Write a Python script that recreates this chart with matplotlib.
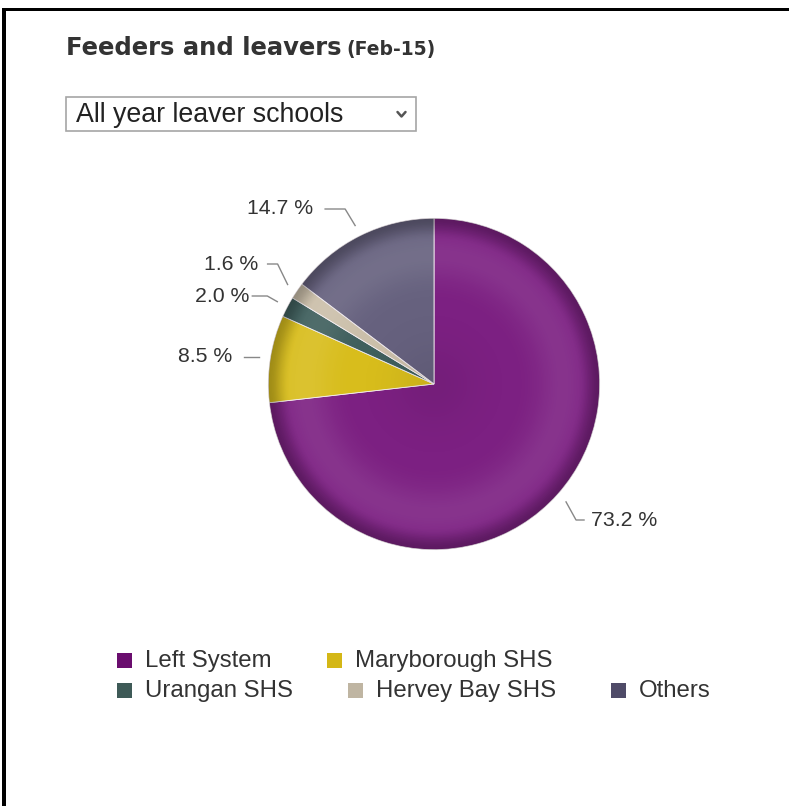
import numpy as np
import matplotlib
matplotlib.use("Agg")
import matplotlib.pyplot as plt
from matplotlib.patches import Rectangle, Circle

# ---- data ----
categories = ["Left System", "Maryborough SHS", "Urangan SHS", "Hervey Bay SHS", "Others"]
shares = [73.2, 8.5, 2.0, 1.6, 14.7]
slice_colors = ["#7c2082", "#d8bd1c", "#3f5f5d", "#cbbfaa", "#66617e"]
legend_colors = ["#6a0d6e", "#d4b716", "#3e5a57", "#bfb5a2", "#4f4b68"]
title_main = "Feeders and leavers"
title_sub = "(Feb-15)"
selector_text = "All year leaver schools"

W, H = 789, 806
fig = plt.figure(figsize=(W / 100, H / 100), dpi=100, facecolor="white")

# overlay axes in pixel coordinates (y downwards)
ov = fig.add_axes([0, 0, 1, 1], zorder=3)
ov.set_xlim(0, W)
ov.set_ylim(H, 0)
ov.axis("off")
ov.patch.set_alpha(0)

# frame bars on top and left
ov.add_patch(Rectangle((2.3, 7.7), W, 3.4, color="black", lw=0))
ov.add_patch(Rectangle((2.3, 7.7), 3.8, H, color="black", lw=0))

# title
t = ov.text(66, 55, title_main, fontsize=17.5, fontweight="bold", color="#333333",
            family="DejaVu Sans", va="baseline", ha="left")
fig.canvas.draw()
r = fig.canvas.get_renderer()
bb = t.get_window_extent(r)
ov.text(bb.x1 + 5, 55, title_sub, fontsize=13.5, fontweight="bold", color="#333333",
        family="DejaVu Sans", va="baseline", ha="left")

# selector box
ov.add_patch(Rectangle((66, 97), 350, 34, facecolor="white", edgecolor="#a6a6a6", lw=1.2))
ov.text(76, 115, selector_text, fontsize=19.3, color="#222222", family="Liberation Sans",
        va="center", ha="left")
ov.plot([397.5, 401.5, 405.5], [112, 116.5, 112], color="#555555", lw=1.8,
        solid_capstyle="round", solid_joinstyle="round")

# ---- pie ----
cx, cy, R = 434, 384, 169
pa = fig.add_axes([(cx - R) / W, (H - cy - R) / H, 2 * R / W, 2 * R / H], zorder=2)
wedges, _ = pa.pie(shares, colors=slice_colors, startangle=90, counterclock=False,
                   radius=1.0, wedgeprops=dict(edgecolor="#f4eef2", linewidth=0.6))

# radial shading: soft highlight ring and darkened rim
n = 600
g = np.linspace(-1.02, 1.02, n)
X, Y = np.meshgrid(g, g)
rr = np.hypot(X, Y)
hi = 0.09 * np.exp(-((rr - 0.78) / 0.16) ** 2)
sm = np.clip((rr - 0.87) / 0.13, 0, 1)
dark = 0.26 * sm * sm * (3 - 2 * sm) + 0.06 * np.exp(-(rr / 0.25) ** 2)
clip = Circle((0, 0), 1.0, transform=pa.transData)
white_layer = np.zeros((n, n, 4)); white_layer[..., :3] = 1; white_layer[..., 3] = hi
dark_layer = np.zeros((n, n, 4)); dark_layer[..., 3] = dark
for layer in (white_layer, dark_layer):
    im = pa.imshow(layer, extent=(-1.02, 1.02, -1.02, 1.02), origin="lower",
                   interpolation="bilinear", zorder=5)
    im.set_clip_path(clip)
pa.set_xlim(-1.02, 1.02)
pa.set_ylim(-1.02, 1.02)
pa.set_aspect("auto")
pa.axis("off")

# ---- data labels with elbow connectors ----
label_y = [520, 357, 296, 264, 209]      # label rows (collision-avoided)
side = [1, -1, -1, -1, -1]
seg_len = [8, 15, 15, 10, 20]
gap = [7, 12, 3, 9, 12]
start = 90.0
for i, v in enumerate(shares):
    sweep = v / 100 * 360
    mid = np.deg2rad(start - sweep / 2)
    start -= sweep
    ar = R + 8
    axp = cx + ar * np.cos(mid)
    ayp = cy - ar * np.sin(mid)
    ly = label_y[i]
    s = side[i]
    if abs(ayp - ly) > 2:
        ex = axp + s * 10
    else:
        ex = axp
        ly = ayp
    lx_end = ex + s * seg_len[i]
    ov.plot([axp, ex, lx_end], [ayp, ly, ly], color="#888888", lw=1.0)
    ov.text(lx_end + s * gap[i], ly, f"{v:.1f} %", fontsize=15.3, color="#333333",
            family="Liberation Sans", va="center", ha="left" if s > 0 else "right")

# ---- legend, wrapping rows ----
x0, row_y, row_h, spacing, limit = 117, 660, 30, 55, 720
box = 15
x, y = x0, row_y
fig.canvas.draw()
r = fig.canvas.get_renderer()
for name, col in zip(categories, legend_colors):
    tt = ov.text(0, 0, name, fontsize=17.3, color="#333333", family="Liberation Sans",
                 va="center", ha="left")
    tw = tt.get_window_extent(r).width
    item_w = box + 13 + tw
    if x + item_w > limit and x != x0:
        x = x0
        y += row_h
    ov.add_patch(Rectangle((x, y - box / 2), box, box, facecolor=col, lw=0))
    tt.set_position((x + box + 13, y + 1))
    x += item_w + spacing

fig.savefig("out.png", dpi=100, facecolor="white")
